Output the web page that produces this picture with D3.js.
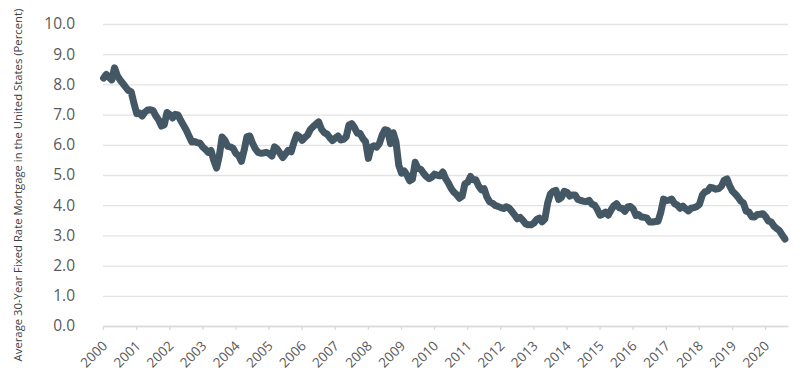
<!DOCTYPE html>
<html>
<head>
<meta charset="utf-8">
<script src="https://cdn.jsdelivr.net/npm/d3@7"></script>
<style>
  body { margin: 0; background: #fff; }
  .tick text { fill: #595959; font-family: "Open Sans", sans-serif; }
</style>
</head>
<body>
<div id="chart"></div>
<script>
// Monthly average 30-year fixed rate, Jan 2000 .. Aug 2020
var firstYear = 2000;
var monthlyRates = [
  // 2000
  8.21, 8.33, 8.24, 8.15, 8.55, 8.29, 8.15, 8.03, 7.91, 7.80, 7.75, 7.38,
  // 2001
  7.03, 7.05, 6.95, 7.08, 7.15, 7.16, 7.13, 6.95, 6.82, 6.62, 6.66, 7.07,
  // 2002
  7.00, 6.89, 7.01, 6.99, 6.81, 6.65, 6.49, 6.29, 6.09, 6.11, 6.07, 6.05,
  // 2003
  5.92, 5.84, 5.75, 5.81, 5.48, 5.23, 5.63, 6.26, 6.15, 5.95, 5.93, 5.88,
  // 2004
  5.71, 5.64, 5.45, 5.83, 6.27, 6.29, 6.06, 5.87, 5.75, 5.72, 5.73, 5.75,
  // 2005
  5.71, 5.63, 5.93, 5.86, 5.72, 5.58, 5.70, 5.82, 5.77, 6.07, 6.33, 6.27,
  // 2006
  6.15, 6.25, 6.32, 6.51, 6.60, 6.68, 6.76, 6.52, 6.40, 6.36, 6.24, 6.14,
  // 2007
  6.22, 6.29, 6.16, 6.18, 6.26, 6.66, 6.70, 6.57, 6.38, 6.38, 6.21, 6.10,
  // 2008
  5.55, 5.92, 5.97, 5.92, 6.04, 6.32, 6.50, 6.48, 6.04, 6.40, 6.09, 5.33,
  // 2009
  5.06, 5.13, 5.00, 4.81, 4.86, 5.42, 5.22, 5.19, 5.06, 4.95, 4.88, 4.93,
  // 2010
  5.03, 4.99, 4.97, 5.10, 4.89, 4.74, 4.56, 4.43, 4.35, 4.23, 4.30, 4.71,
  // 2011
  4.76, 4.95, 4.84, 4.84, 4.64, 4.51, 4.55, 4.27, 4.11, 4.07, 3.99, 3.96,
  // 2012
  3.92, 3.89, 3.95, 3.91, 3.80, 3.68, 3.55, 3.60, 3.50, 3.38, 3.35, 3.35,
  // 2013
  3.41, 3.53, 3.57, 3.45, 3.54, 4.07, 4.37, 4.46, 4.49, 4.19, 4.26, 4.46,
  // 2014
  4.43, 4.30, 4.34, 4.34, 4.19, 4.16, 4.13, 4.12, 4.16, 4.04, 4.00, 3.86,
  // 2015
  3.67, 3.71, 3.77, 3.67, 3.84, 3.98, 4.05, 3.91, 3.89, 3.80, 3.94, 3.96,
  // 2016
  3.87, 3.66, 3.69, 3.61, 3.60, 3.57, 3.44, 3.44, 3.46, 3.47, 3.77, 4.20,
  // 2017
  4.15, 4.17, 4.20, 4.05, 4.01, 3.90, 3.97, 3.88, 3.81, 3.90, 3.92, 3.95,
  // 2018
  4.03, 4.33, 4.44, 4.47, 4.59, 4.57, 4.53, 4.55, 4.63, 4.83, 4.87, 4.64,
  // 2019
  4.46, 4.37, 4.27, 4.14, 4.07, 3.80, 3.77, 3.62, 3.61, 3.69, 3.70, 3.72,
  // 2020
  3.62, 3.47, 3.45, 3.31, 3.23, 3.16, 3.02, 2.88
];
var yearTicks = d3.range(2000, 2021);
var rateTicks = d3.range(0, 11);
var yTitle = "Average 30-Year Fixed Rate Mortgage in the United States (Percent)";

var W = 800, H = 384;
var margin = { top: 24, right: 12, bottom: 58, left: 103 };

var svg = d3.select('#chart').append('svg')
    .attr('width', W)
    .attr('height', H);

var data = monthlyRates.map(function (v, i) {
  return { date: new Date(firstYear, i, 7), rate: v };
});

var x = d3.scaleTime()
    .domain([new Date(2000, 0, 1), new Date(2020, 8, 10)])
    .range([margin.left, W - margin.right]);
var y = d3.scaleLinear()
    .domain([0, 10])
    .range([H - margin.bottom, margin.top]);

// gridlines + y labels
var yAxis = svg.append('g')
    .attr('transform', 'translate(' + margin.left + ',0)')
    .call(d3.axisLeft(y).tickValues(rateTicks)
        .tickFormat(d3.format('.1f'))
        .tickSize(-(W - margin.left - margin.right)).tickPadding(28));
yAxis.select('.domain').remove();
yAxis.selectAll('.tick line').attr('stroke', '#e3e3e3').attr('stroke-width', 1.3);
yAxis.selectAll('.tick text').style('font-size', '15.5px');

// bottom axis
var xAxis = svg.append('g')
    .attr('transform', 'translate(0,' + (H - margin.bottom) + ')')
    .call(d3.axisBottom(x)
        .tickValues(yearTicks.map(function (yr) { return new Date(yr, 0, 1); }))
        .tickFormat(d3.timeFormat('%Y'))
        .tickSize(4).tickSizeOuter(0));
xAxis.select('.domain').attr('stroke', '#d9d9d9').attr('stroke-width', 1.3);
xAxis.selectAll('.tick line').attr('stroke', '#d9d9d9').attr('stroke-width', 1.3);
xAxis.selectAll('.tick text')
    .style('font-size', '13.5px')
    .attr('text-anchor', 'end')
    .attr('transform', 'translate(-2,14) rotate(-45)')
    .attr('dx', 0)
    .attr('dy', '0.7em')
    .attr('y', 0);

// y title
svg.append('text')
    .attr('transform', 'translate(18,185) rotate(-90)')
    .attr('text-anchor', 'middle')
    .attr('dy', '0.35em')
    .style('font-family', '"Open Sans", sans-serif')
    .style('font-size', '11.3px')
    .attr('fill', '#404040')
    .text(yTitle);

// the line
var line = d3.line()
    .x(function (d) { return x(d.date); })
    .y(function (d) { return y(d.rate); });

svg.append('path')
    .datum(data)
    .attr('fill', 'none')
    .attr('stroke', '#435864')
    .attr('stroke-width', 7)
    .attr('stroke-linejoin', 'round')
    .attr('stroke-linecap', 'round')
    .attr('d', line);
</script>
</body>
</html>
